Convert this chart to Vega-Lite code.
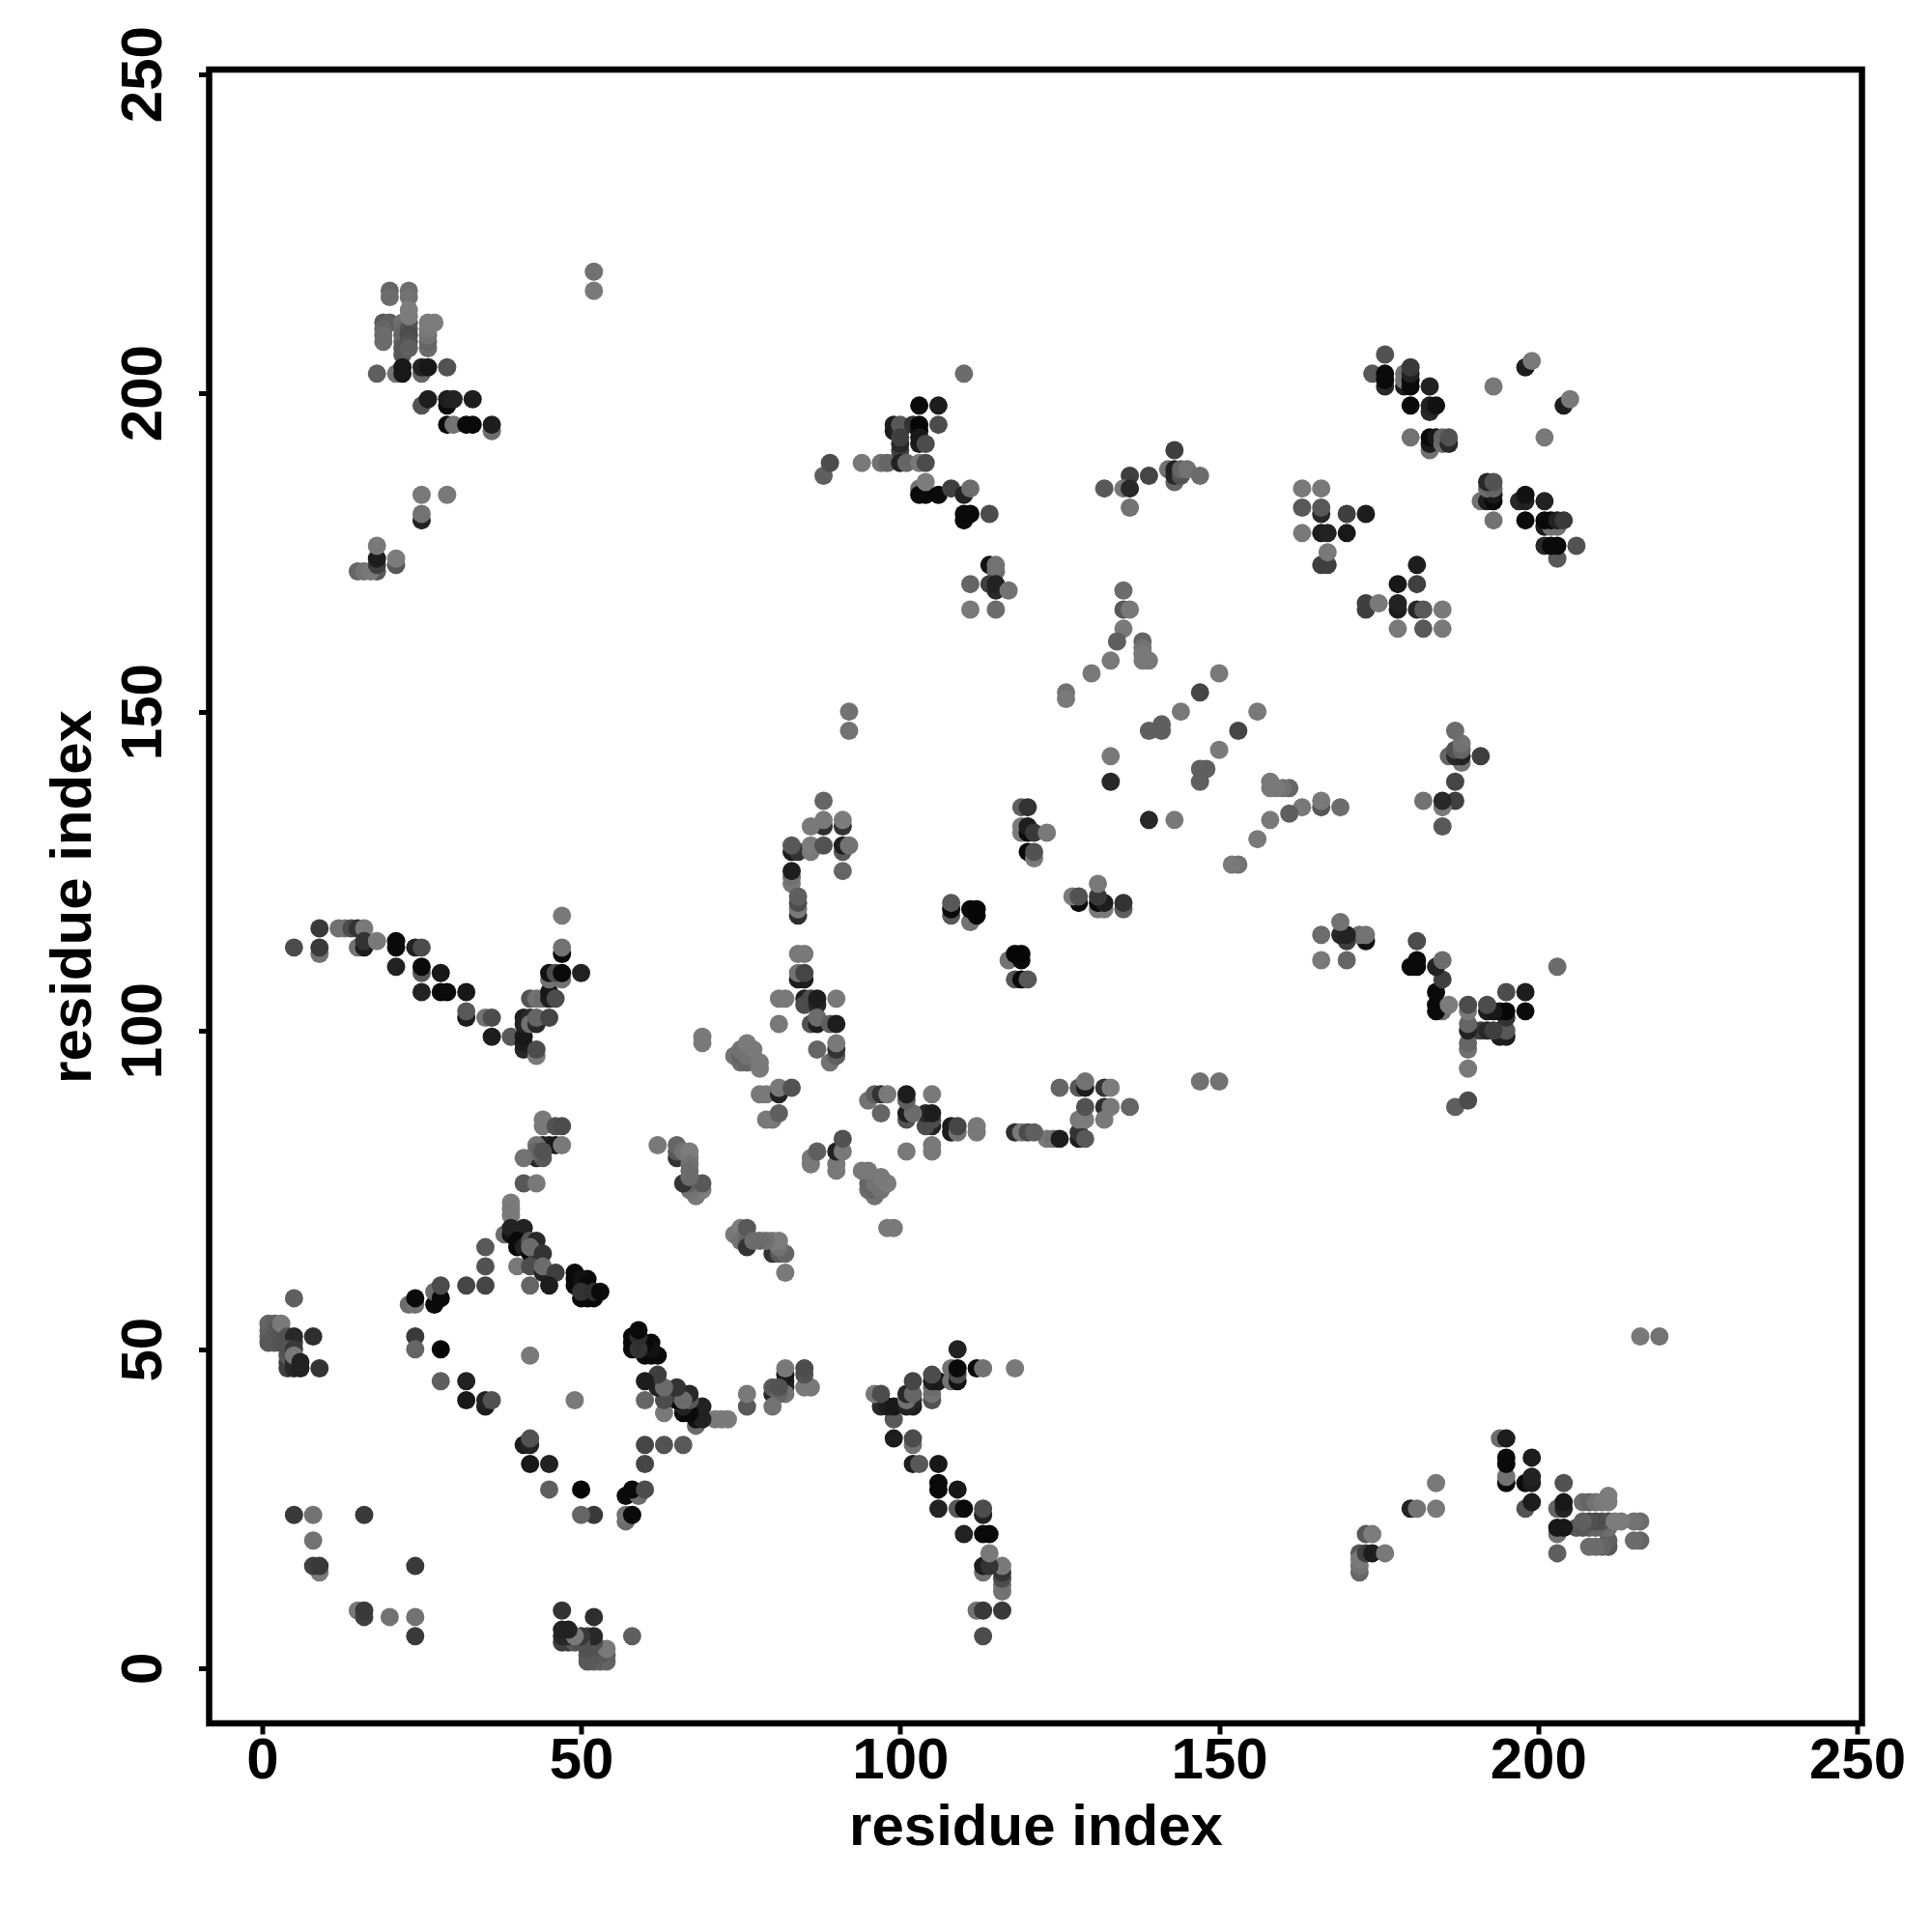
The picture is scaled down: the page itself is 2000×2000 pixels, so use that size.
{"$schema":"https://vega.github.io/schema/vega-lite/v6.json","width":1711,"height":1712,"autosize":{"type":"none"},"padding":{"left":216.5,"top":72,"right":72,"bottom":216},"background":"#ffffff",
"view":{"stroke":"#000000","strokeWidth":6.5,"fill":"#ffffff"},
"config":{"axis":{"grid":false,"domain":false,"tickColor":"#000000","tickWidth":5,"tickSize":11,"labelFont":"Liberation Sans","labelFontWeight":"bold","labelFontSize":60,"labelColor":"#000000","titleFont":"Liberation Sans","titleFontWeight":"bold","titleFontSize":60,"titleColor":"#000000","labelOverlap":false,"labelFlush":false},"axisX":{"labelPadding":-2,"titlePadding":10},"axisY":{"labelAngle":-90,"labelAlign":"center","labelBaseline":"bottom","labelPadding":26,"titlePadding":12}},
"data":{"values":[
{"i":20,"j":216,"p":0.2},{"i":20,"j":215,"p":0.15},{"i":23,"j":216,"p":0.15},{"i":23,"j":215,"p":0.1},{"i":19,"j":211,"p":0.3},{"i":20,"j":211,"p":0.25},{"i":22,"j":211,"p":0.1},{"i":23,"j":211,"p":0.35},{"i":19,"j":210,"p":0.2},{"i":19,"j":209,"p":0.15},{"i":19,"j":208,"p":0.15},{"i":22,"j":210,"p":0.15},{"i":22,"j":209,"p":0.2},{"i":22,"j":208,"p":0.2},{"i":22,"j":207,"p":0.3},{"i":22,"j":206,"p":0.3},{"i":23,"j":210,"p":0.35},{"i":23,"j":209,"p":0.4},{"i":23,"j":208,"p":0.35},{"i":23,"j":207,"p":0.25},{"i":23,"j":213,"p":0.03},{"i":23,"j":212,"p":0.03},{"i":26,"j":207,"p":0.15},{"i":26,"j":208,"p":0.2},{"i":26,"j":209,"p":0.1},{"i":26,"j":210,"p":0.05},{"i":26,"j":211,"p":0.03},{"i":27,"j":211,"p":0.03},{"i":18,"j":203,"p":0.25},{"i":21,"j":203,"p":0.1},{"i":25,"j":203,"p":0.2},{"i":22,"j":204,"p":0.85},{"i":22,"j":203,"p":0.85},{"i":25,"j":204,"p":0.75},{"i":26,"j":204,"p":0.85},{"i":29,"j":204,"p":0.35},{"i":25,"j":198,"p":0.35},{"i":26,"j":199,"p":0.8},{"i":29,"j":198,"p":0.95},{"i":29,"j":199,"p":0.8},{"i":30,"j":199,"p":0.75},{"i":33,"j":199,"p":0.8},{"i":29,"j":195,"p":0.95},{"i":30,"j":195,"p":0.1},{"i":32,"j":195,"p":0.95},{"i":33,"j":195,"p":0.95},{"i":36,"j":194,"p":0.15},{"i":36,"j":195,"p":0.8},{"i":25,"j":184,"p":0.05},{"i":29,"j":184,"p":0.05},{"i":25,"j":180,"p":0.75},{"i":25,"j":181,"p":0.1},{"i":18,"j":172,"p":0.3},{"i":15,"j":172,"p":0.2},{"i":16,"j":172,"p":0.1},{"i":17,"j":172,"p":0.05},{"i":18,"j":173,"p":0.5},{"i":18,"j":174,"p":0.8},{"i":18,"j":176,"p":0.05},{"i":21,"j":173,"p":0.3},{"i":21,"j":174,"p":0.03},{"i":52,"j":219,"p":0.1},{"i":52,"j":216,"p":0.05},
{"i":5,"j":113,"p":0.4},{"i":9,"j":112,"p":0.1},{"i":9,"j":113,"p":0.55},{"i":9,"j":116,"p":0.55},{"i":12,"j":116,"p":0.1},{"i":13,"j":116,"p":0.1},{"i":14,"j":116,"p":0.4},{"i":15,"j":116,"p":0.6},{"i":16,"j":116,"p":0.05},{"i":15,"j":113,"p":0.1},{"i":16,"j":113,"p":0.8},{"i":16,"j":114,"p":0.6},{"i":18,"j":114,"p":0.05},{"i":21,"j":114,"p":0.95},{"i":21,"j":113,"p":0.95},{"i":24,"j":113,"p":0.75},{"i":25,"j":113,"p":0.4},{"i":21,"j":110,"p":0.75},{"i":25,"j":109,"p":0.3},{"i":25,"j":110,"p":0.95},{"i":28,"j":109,"p":0.85},{"i":25,"j":106,"p":0.75},{"i":28,"j":106,"p":0.95},{"i":29,"j":106,"p":0.95},{"i":32,"j":106,"p":0.85},{"i":32,"j":102,"p":0.8},{"i":32,"j":103,"p":0.3},{"i":35,"j":102,"p":0.1},{"i":36,"j":102,"p":0.4},{"i":36,"j":99,"p":0.8},{"i":39,"j":99,"p":0.3},{"i":41,"j":97,"p":0.7},{"i":41,"j":98,"p":0.8},{"i":41,"j":99,"p":0.85},{"i":43,"j":96,"p":0.05},{"i":43,"j":97,"p":0.4},{"i":41,"j":102,"p":0.8},{"i":41,"j":101,"p":0.75},{"i":42,"j":102,"p":0.7},{"i":42,"j":101,"p":0.1},{"i":43,"j":101,"p":0.7},{"i":43,"j":102,"p":0.2},{"i":45,"j":102,"p":0.45},{"i":42,"j":105,"p":0.35},{"i":43,"j":105,"p":0.1},{"i":44,"j":105,"p":0.15},{"i":45,"j":105,"p":0.8},{"i":45,"j":106,"p":0.85},{"i":46,"j":105,"p":0.4},{"i":45,"j":108,"p":0.1},{"i":47,"j":108,"p":0.1},{"i":45,"j":109,"p":0.9},{"i":46,"j":109,"p":0.4},{"i":47,"j":109,"p":0.95},{"i":50,"j":109,"p":0.75},{"i":47,"j":112,"p":0.95},{"i":47,"j":113,"p":0.1},{"i":47,"j":118,"p":0.05},
{"i":44,"j":86,"p":0.05},{"i":44,"j":85,"p":0.05},{"i":46,"j":85,"p":0.35},{"i":47,"j":85,"p":0.4},{"i":44,"j":82,"p":0.75},{"i":45,"j":82,"p":0.75},{"i":46,"j":82,"p":0.85},{"i":43,"j":82,"p":0.1},{"i":47,"j":82,"p":0.05},{"i":43,"j":80,"p":0.7},{"i":44,"j":80,"p":0.3},{"i":43,"j":81,"p":0.2},{"i":44,"j":81,"p":0.35},{"i":41,"j":80,"p":0.1},{"i":41,"j":76,"p":0.3},{"i":43,"j":76,"p":0.05},{"i":39,"j":73,"p":0.03},{"i":39,"j":72,"p":0.05},{"i":39,"j":71,"p":0.05},{"i":38,"j":68,"p":0.15},{"i":39,"j":68,"p":0.9},{"i":40,"j":68,"p":0.8},{"i":39,"j":69,"p":0.75},{"i":41,"j":69,"p":0.75},{"i":40,"j":67,"p":0.95},{"i":40,"j":66,"p":0.95},{"i":41,"j":66,"p":0.75},{"i":42,"j":67,"p":0.3},{"i":43,"j":67,"p":0.7},{"i":42,"j":65,"p":0.95},{"i":43,"j":65,"p":0.6},{"i":42,"j":66,"p":0.15},{"i":44,"j":65,"p":0.6},{"i":40,"j":63,"p":0.05},{"i":42,"j":63,"p":0.4},{"i":44,"j":62,"p":0.75},{"i":44,"j":63,"p":0.15},{"i":46,"j":62,"p":0.5},{"i":42,"j":60,"p":0.2},{"i":45,"j":60,"p":0.8},{"i":35,"j":66,"p":0.3},{"i":35,"j":63,"p":0.35},{"i":32,"j":60,"p":0.45},{"i":35,"j":60,"p":0.45},{"i":49,"j":62,"p":0.95},{"i":49,"j":61,"p":0.95},{"i":51,"j":61,"p":0.95},{"i":49,"j":60,"p":0.95},{"i":50,"j":60,"p":0.95},{"i":50,"j":61,"p":0.9},{"i":51,"j":60,"p":0.95},{"i":50,"j":58,"p":0.95},{"i":51,"j":58,"p":0.95},{"i":52,"j":58,"p":0.95},{"i":50,"j":59,"p":0.6},{"i":52,"j":59,"p":0.65},{"i":53,"j":59,"p":0.95},{"i":27,"j":57,"p":0.95},{"i":23,"j":57,"p":0.15},{"i":24,"j":57,"p":0.1},{"i":24,"j":58,"p":0.95},{"i":27,"j":59,"p":0.15},{"i":28,"j":58,"p":0.95},{"i":28,"j":60,"p":0.4},
{"i":1,"j":54,"p":0.2},{"i":2,"j":54,"p":0.25},{"i":1,"j":53,"p":0.2},{"i":2,"j":53,"p":0.3},{"i":3,"j":53,"p":0.2},{"i":1,"j":52,"p":0.25},{"i":2,"j":52,"p":0.3},{"i":3,"j":52,"p":0.35},{"i":1,"j":51,"p":0.3},{"i":2,"j":51,"p":0.3},{"i":3,"j":51,"p":0.35},{"i":3,"j":54,"p":0.05},{"i":4,"j":52,"p":0.35},{"i":5,"j":51,"p":0.4},{"i":5,"j":52,"p":0.7},{"i":8,"j":52,"p":0.65},{"i":4,"j":47,"p":0.5},{"i":4,"j":48,"p":0.5},{"i":4,"j":49,"p":0.3},{"i":4,"j":50,"p":0.35},{"i":5,"j":47,"p":0.7},{"i":5,"j":48,"p":0.7},{"i":5,"j":50,"p":0.55},{"i":5,"j":49,"p":0.05},{"i":6,"j":47,"p":0.75},{"i":6,"j":48,"p":0.75},{"i":9,"j":47,"p":0.6},{"i":5,"j":58,"p":0.25},{"i":24,"j":52,"p":0.55},{"i":24,"j":50,"p":0.2},{"i":28,"j":50,"p":0.97},{"i":28,"j":45,"p":0.25},{"i":32,"j":45,"p":0.75},{"i":32,"j":42,"p":0.85},{"i":35,"j":41,"p":0.8},{"i":35,"j":42,"p":0.75},{"i":36,"j":42,"p":0.35},{"i":42,"j":49,"p":0.05},
{"i":5,"j":24,"p":0.55},{"i":8,"j":24,"p":0.1},{"i":16,"j":24,"p":0.55},{"i":8,"j":20,"p":0.1},{"i":9,"j":15,"p":0.05},{"i":8,"j":16,"p":0.5},{"i":9,"j":16,"p":0.55},
{"i":68,"j":74,"p":0.05},{"i":68,"j":75,"p":0.05},{"i":68,"j":76,"p":0.1},{"i":69,"j":75,"p":0.03},{"i":67,"j":75,"p":0.1},{"i":67,"j":76,"p":0.2},{"i":66,"j":76,"p":0.6},{"i":69,"j":76,"p":0.3},{"i":65,"j":80,"p":0.6},{"i":65,"j":81,"p":0.3},{"i":65,"j":82,"p":0.2},{"i":62,"j":82,"p":0.05},{"i":66,"j":81,"p":0.1},{"i":67,"j":81,"p":0.03},{"i":67,"j":80,"p":0.03},{"i":67,"j":79,"p":0.1},{"i":67,"j":78,"p":0.15},{"i":67,"j":77,"p":0.15},{"i":69,"j":99,"p":0.05},{"i":69,"j":98,"p":0.05},{"i":74,"j":96,"p":0.1},{"i":75,"j":95,"p":0.15},{"i":75,"j":96,"p":0.2},{"i":75,"j":97,"p":0.1},{"i":76,"j":95,"p":0.2},{"i":76,"j":96,"p":0.1},{"i":76,"j":98,"p":0.03},{"i":77,"j":97,"p":0.05},{"i":78,"j":94,"p":0.05},{"i":78,"j":95,"p":0.05},{"i":79,"j":86,"p":0.05},{"i":80,"j":86,"p":0.05},{"i":81,"j":87,"p":0.25},{"i":78,"j":90,"p":0.05},{"i":79,"j":90,"p":0.05},{"i":81,"j":90,"p":0.75},{"i":81,"j":91,"p":0.05},{"i":83,"j":91,"p":0.35},
{"i":81,"j":105,"p":0.05},{"i":82,"j":105,"p":0.05},{"i":85,"j":105,"p":0.75},{"i":85,"j":104,"p":0.4},{"i":86,"j":105,"p":0.4},{"i":87,"j":104,"p":0.7},{"i":87,"j":105,"p":0.8},{"i":90,"j":105,"p":0.05},{"i":81,"j":101,"p":0.05},{"i":86,"j":101,"p":0.35},{"i":87,"j":101,"p":0.8},{"i":87,"j":102,"p":0.15},{"i":89,"j":101,"p":0.25},{"i":90,"j":101,"p":0.8},{"i":87,"j":97,"p":0.2},{"i":89,"j":95,"p":0.1},{"i":90,"j":96,"p":0.25},{"i":90,"j":97,"p":0.6},{"i":90,"j":98,"p":0.05},{"i":84,"j":108,"p":0.8},{"i":85,"j":108,"p":0.8},{"i":84,"j":109,"p":0.1},{"i":85,"j":109,"p":0.45},{"i":84,"j":112,"p":0.05},{"i":85,"j":112,"p":0.05},
{"i":88,"j":136,"p":0.2},{"i":88,"j":132,"p":0.65},{"i":88,"j":133,"p":0.05},{"i":86,"j":132,"p":0.05},{"i":91,"j":132,"p":0.6},{"i":91,"j":133,"p":0.03},{"i":83,"j":128,"p":0.8},{"i":84,"j":128,"p":0.6},{"i":83,"j":129,"p":0.3},{"i":86,"j":128,"p":0.05},{"i":86,"j":129,"p":0.03},{"i":88,"j":129,"p":0.35},{"i":91,"j":128,"p":0.3},{"i":91,"j":129,"p":0.8},{"i":92,"j":129,"p":0.1},{"i":91,"j":125,"p":0.2},{"i":83,"j":123,"p":0.05},{"i":83,"j":124,"p":0.1},{"i":83,"j":125,"p":0.8},{"i":84,"j":118,"p":0.65},{"i":84,"j":119,"p":0.05},{"i":84,"j":120,"p":0.4},{"i":84,"j":121,"p":0.25},{"i":108,"j":118,"p":0.3},{"i":108,"j":119,"p":0.95},{"i":108,"j":120,"p":0.3},{"i":111,"j":117,"p":0.1},{"i":111,"j":119,"p":0.95},{"i":112,"j":118,"p":0.97},{"i":112,"j":119,"p":0.97},
{"i":119,"j":135,"p":0.25},{"i":120,"j":135,"p":0.6},{"i":119,"j":131,"p":0.05},{"i":119,"j":132,"p":0.05},{"i":120,"j":131,"p":0.95},{"i":120,"j":132,"p":0.8},{"i":121,"j":131,"p":0.55},{"i":123,"j":131,"p":0.05},{"i":120,"j":128,"p":0.95},{"i":121,"j":127,"p":0.05},{"i":121,"j":128,"p":0.35},{"i":92,"j":150,"p":0.1},{"i":92,"j":147,"p":0.1},
{"i":110,"j":203,"p":0.15},{"i":103,"j":198,"p":0.95},{"i":106,"j":198,"p":0.8},{"i":99,"j":194,"p":0.8},{"i":99,"j":195,"p":0.8},{"i":100,"j":194,"p":0.7},{"i":100,"j":195,"p":0.3},{"i":102,"j":195,"p":0.6},{"i":103,"j":194,"p":0.9},{"i":103,"j":195,"p":0.97},{"i":106,"j":195,"p":0.4},{"i":100,"j":190,"p":0.3},{"i":100,"j":191,"p":0.5},{"i":100,"j":192,"p":0.7},{"i":100,"j":193,"p":0.5},{"i":103,"j":192,"p":0.8},{"i":103,"j":193,"p":0.85},{"i":104,"j":192,"p":0.4},{"i":88,"j":187,"p":0.25},{"i":89,"j":189,"p":0.4},{"i":94,"j":189,"p":0.05},{"i":97,"j":189,"p":0.1},{"i":98,"j":189,"p":0.2},{"i":100,"j":189,"p":0.75},{"i":101,"j":189,"p":0.2},{"i":103,"j":189,"p":0.05},{"i":104,"j":189,"p":0.4},{"i":103,"j":185,"p":0.1},{"i":103,"j":184,"p":0.95},{"i":104,"j":184,"p":0.95},{"i":104,"j":186,"p":0.03},{"i":106,"j":184,"p":0.95},{"i":108,"j":185,"p":0.5},{"i":110,"j":184,"p":0.75},{"i":111,"j":185,"p":0.15},{"i":110,"j":180,"p":0.95},{"i":110,"j":181,"p":0.95},{"i":111,"j":181,"p":0.95},{"i":114,"j":181,"p":0.4},{"i":114,"j":173,"p":0.9},{"i":115,"j":172,"p":0.15},{"i":115,"j":173,"p":0.1},{"i":114,"j":170,"p":0.5},{"i":115,"j":169,"p":0.7},{"i":115,"j":170,"p":0.75},{"i":117,"j":169,"p":0.1},{"i":111,"j":170,"p":0.2},{"i":111,"j":166,"p":0.05},{"i":115,"j":166,"p":0.15},
{"i":143,"j":191,"p":0.5},{"i":142,"j":188,"p":0.1},{"i":143,"j":186,"p":0.2},{"i":143,"j":187,"p":0.7},{"i":143,"j":188,"p":0.75},{"i":144,"j":187,"p":0.35},{"i":144,"j":188,"p":0.2},{"i":145,"j":188,"p":0.1},{"i":147,"j":187,"p":0.15},{"i":136,"j":187,"p":0.5},{"i":139,"j":187,"p":0.45},{"i":132,"j":185,"p":0.3},{"i":135,"j":185,"p":0.05},{"i":136,"j":185,"p":0.7},{"i":136,"j":182,"p":0.1},{"i":135,"j":169,"p":0.15},{"i":135,"j":166,"p":0.3},{"i":136,"j":166,"p":0.05},{"i":135,"j":163,"p":0.05},{"i":134,"j":161,"p":0.25},{"i":138,"j":161,"p":0.2},{"i":138,"j":160,"p":0.1},{"i":138,"j":159,"p":0.05},{"i":138,"j":158,"p":0.05},{"i":139,"j":158,"p":0.05},{"i":133,"j":158,"p":0.05},{"i":130,"j":156,"p":0.05},{"i":150,"j":156,"p":0.05},{"i":147,"j":153,"p":0.45},{"i":126,"j":153,"p":0.1},{"i":126,"j":152,"p":0.05},{"i":144,"j":150,"p":0.05},{"i":141,"j":148,"p":0.25},{"i":141,"j":147,"p":0.25},{"i":139,"j":147,"p":0.25},{"i":133,"j":143,"p":0.05},{"i":133,"j":139,"p":0.7},
{"i":176,"j":206,"p":0.35},{"i":174,"j":203,"p":0.3},{"i":176,"j":201,"p":0.7},{"i":176,"j":202,"p":0.95},{"i":176,"j":203,"p":0.95},{"i":179,"j":201,"p":0.8},{"i":179,"j":202,"p":0.1},{"i":179,"j":203,"p":0.1},{"i":180,"j":201,"p":0.95},{"i":180,"j":202,"p":0.95},{"i":180,"j":203,"p":0.75},{"i":180,"j":204,"p":0.55},{"i":183,"j":201,"p":0.75},{"i":180,"j":198,"p":0.95},{"i":183,"j":197,"p":0.7},{"i":183,"j":198,"p":0.75},{"i":184,"j":198,"p":0.9},{"i":180,"j":193,"p":0.1},{"i":183,"j":191,"p":0.1},{"i":183,"j":192,"p":0.8},{"i":183,"j":193,"p":0.95},{"i":184,"j":193,"p":0.85},{"i":185,"j":192,"p":0.15},{"i":185,"j":193,"p":0.2},{"i":186,"j":192,"p":0.7},{"i":186,"j":193,"p":0.35},{"i":163,"j":185,"p":0.05},{"i":166,"j":185,"p":0.05},{"i":163,"j":182,"p":0.3},{"i":166,"j":181,"p":0.7},{"i":166,"j":182,"p":0.3},{"i":170,"j":181,"p":0.5},{"i":173,"j":181,"p":0.8},{"i":163,"j":178,"p":0.05},{"i":166,"j":178,"p":0.8},{"i":167,"j":178,"p":0.75},{"i":170,"j":178,"p":0.85},{"i":166,"j":173,"p":0.5},{"i":167,"j":173,"p":0.5},{"i":167,"j":175,"p":0.05},{"i":198,"j":204,"p":0.8},{"i":199,"j":205,"p":0.05},{"i":193,"j":201,"p":0.05}
]},
"layer":[
{"mark":{"type":"point","filled":true,"size":360,"opacity":1,"stroke":null},"encoding":{"x":{"field":"i","type":"quantitative","title":"residue index","axis":{"values":[0,50,100,150,200,250]},"scale":{"domain":[-8.3,250.75],"nice":false,"zero":false}},"y":{"field":"j","type":"quantitative","title":"residue index","axis":{"values":[0,50,100,150,200,250]},"scale":{"domain":[-8.68,250.7],"nice":false,"zero":false}},"color":{"field":"p","type":"quantitative","legend":null,"scale":{"domain":[0,1],"range":["#808080","#000000"]}}}},
{"mark":{"type":"point","filled":true,"size":360,"opacity":1,"stroke":null},"encoding":{"x":{"field":"j","type":"quantitative","title":"residue index","axis":{"values":[0,50,100,150,200,250]}},"y":{"field":"i","type":"quantitative","title":"residue index","axis":{"values":[0,50,100,150,200,250]}},"color":{"field":"p","type":"quantitative","legend":null}}}
]}
